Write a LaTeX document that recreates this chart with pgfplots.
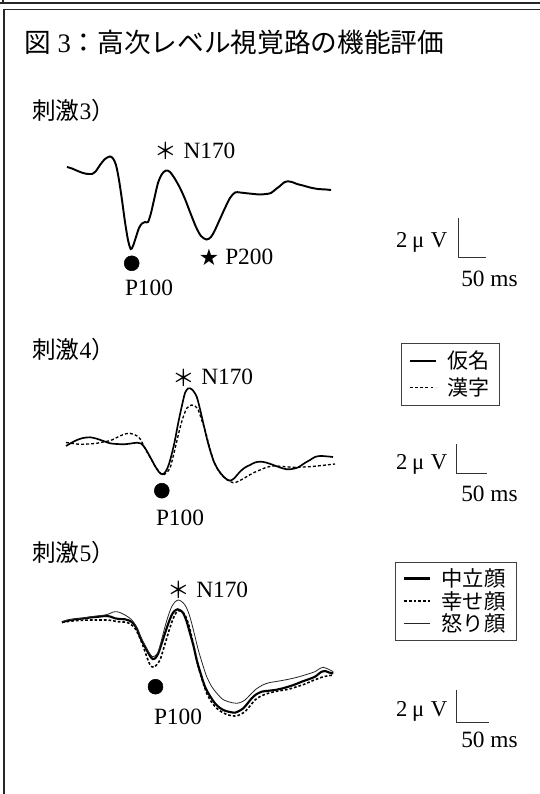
\documentclass[border=0pt]{standalone}
\usepackage{fontspec}
\usepackage{pgfplots}
\pgfplotsset{compat=1.18}
\setmainfont{Liberation Serif}
\newfontfamily\jp{Noto Sans CJK JP}
\newfontfamily\dv{DejaVu Sans}
\begin{document}
\begin{tikzpicture}
\useasboundingbox (0,0) rectangle (405pt,595.5pt);
\tikzset{
  lat/.style={inner sep=0pt, font=\fontsize{17.5pt}{20pt}\selectfont},
  sub/.style={anchor=base west, inner sep=0pt, font=\jp\fontsize{17.75pt}{20pt}\selectfont},
  ast/.style={inner sep=0pt, font=\jp\fontsize{17pt}{18pt}\selectfont},
  muv/.style={inner sep=0pt, anchor=base east, font=\fontsize{17pt}{18pt}\selectfont},
}
\newcommand{\muV}{2\hspace{3.5pt}μ\hspace{5pt}V}
\pgfplotsset{
  panel/.style={at={(0,0)}, anchor=south west, scale only axis,
    width=405pt, height=595.5pt, xmin=0, xmax=540, ymin=-794, ymax=0,
    hide axis, clip=false,
    legend image code/.code={\draw[##1] (0pt,0pt) -- (19pt,0pt);},
    legend cell align=left},
  bar/.style={black!80, line width=0.75pt, forget plot},
  dot/.style={only marks, mark=*, mark size=5.6pt, black, forget plot},
}
% ---------------- Panel 1 ----------------
\begin{axis}[panel]
\draw[black!85, line width=0.9pt] (axis cs:0,-3) -- (axis cs:540,-3);
\draw[black!85, line width=0.9pt] (axis cs:3,0) -- (axis cs:3,-3);
\draw[black!85, line width=0.9pt] (axis cs:4,-794) -- (axis cs:4,-9.7) -- (axis cs:540,-9.7);
\node[anchor=base west, inner sep=0pt, font=\fontsize{20pt}{22pt}\selectfont] at (axis cs:24,-53) {{\jp 図} 3{\jp ：高次レベル視覚路の機能評価}};
\node[sub] at (axis cs:32,-120) {刺激{\rmfamily 3}）};
\addplot[black, line width=1.45pt, smooth, tension=0.5] coordinates {
(67,-167) (72,-168.5) (77,-170.7) (83,-173) (88,-174) (92,-174) (96,-171) (100,-165) (105,-159) (110,-156.5) (113,-158.5) (116,-165) (119,-180) (122,-200) (125,-222) (128,-240) (130.7,-249) (133,-246) (136,-237) (139,-228) (142,-223.5) (145,-222) (148,-222) (151,-213) (154,-200) (158,-183) (162,-174) (166,-170.5) (170,-172) (175,-179) (180,-188) (185,-199) (190,-212) (196,-227) (201,-236) (206.5,-239.5) (211,-237) (215,-230) (220,-219) (225,-208) (230,-198) (235,-192.5) (240,-192.5) (247,-193.3) (254,-194) (260,-194.5) (266,-194) (271,-193) (276,-189) (280,-186) (284,-182.5) (288,-181.3) (292,-182) (297,-184) (303,-185.5) (310,-187.5) (318,-189) (326,-189.5) (331,-190)
};
\addplot[dot] coordinates {(131.7,-263.3)};
\addplot[bar] coordinates {(458,-218.3) (458,-257.3) (485.5,-257.3)};
\node[ast] at (axis cs:166,-151) {＊};
\node[lat, anchor=base west] at (axis cs:183.3,-158.3) {N170};
\node[lat, anchor=base] at (axis cs:149,-296) {P100};
\node[inner sep=0pt, font=\dv\fontsize{17pt}{18pt}\selectfont] at (axis cs:209,-257.5) {★};
\node[lat, anchor=base west] at (axis cs:225,-265) {P200};
\node[muv] at (axis cs:447.6,-248) {\muV};
\node[lat, anchor=base west] at (axis cs:461,-287) {50 ms};
\end{axis}
% ---------------- Panel 2 ----------------
\begin{axis}[panel,
  legend style={at={(0.7426,0.5684)}, anchor=north west, draw=black!75, line width=0.6pt,
    font=\jp\fontsize{15.75pt}{18pt}\selectfont, inner xsep=6pt, inner ysep=4pt, row sep=1pt,
    /tikz/every odd column/.append style={column sep=6pt}}]
\node[sub] at (axis cs:32,-358.5) {刺激{\rmfamily 4}）};
\addplot[black, line width=1.25pt, smooth, tension=0.5] coordinates {
(66,-446) (72,-442.5) (77,-440) (83,-438) (90,-437.3) (96,-438.5) (102,-440.5) (110,-443.3) (117,-444) (124,-444.3) (131,-443.5) (137,-442.7) (141,-443.5) (145,-448) (150,-456.7) (155,-466) (159,-472) (162.7,-474.3) (166,-471) (169,-464) (172,-453) (175,-440) (178,-424) (181.7,-406.7) (185,-393) (188,-388.5) (190,-388.3) (193,-390.5) (196.7,-396.7) (200,-409) (203.3,-423.3) (207,-439) (210,-450) (214,-462) (218.3,-470) (223,-476) (227,-479.5) (230,-480.7) (234,-478.5) (240,-471.7) (245,-467.5) (250,-465) (255,-462.5) (260,-461.7) (266,-462.5) (273.3,-465) (280,-467.5) (286.7,-469.3) (292,-469) (298.3,-467.3) (304,-463.5) (310,-460) (315,-457) (320,-456) (326,-456.3) (333,-457)
};
\addlegendentry{仮名}
\addplot[black, line width=1.0pt, dash pattern=on 2.2pt off 1.6pt, smooth, tension=0.5] coordinates {
(66,-442.5) (73,-443.5) (80,-444.3) (88,-444) (96.7,-443.3) (103,-442) (110,-440.7) (115,-438.5) (120,-436) (125,-434) (130,-433.3) (134,-434.5) (138.3,-436.7) (141,-440) (143.3,-445) (147,-452) (151.7,-460) (155,-466) (158.3,-470.7) (161,-474) (163.3,-475) (166,-473) (170,-468.3) (173,-457) (176.7,-441.7) (180,-428) (183.3,-416.7) (187,-408) (191.7,-405) (195,-406) (198.3,-410) (201,-418) (205,-430) (209,-445) (213.3,-460) (218,-470) (223.3,-476.7) (228,-480.5) (233.3,-482.7) (238,-481.5) (246.7,-476.7) (253,-473) (260,-470) (266,-467.5) (273.3,-466) (283,-466.5) (293.3,-467.3) (302,-467) (310,-466.7) (320,-465.7) (328,-464.8) (335,-464)
};
\addlegendentry{漢字}
\addplot[dot] coordinates {(161.8,-490.7)};
\addplot[bar] coordinates {(456.7,-444) (456.7,-473.3) (487,-473.3)};
\node[ast] at (axis cs:184,-378) {＊};
\node[lat, anchor=base west] at (axis cs:201,-385) {N170};
\node[lat, anchor=base] at (axis cs:180,-526) {P100};
\node[muv] at (axis cs:447.6,-469.5) {\muV};
\node[lat, anchor=base west] at (axis cs:461,-501.5) {50 ms};
\end{axis}
% ---------------- Panel 3 ----------------
\begin{axis}[panel,
  legend style={at={(0.7315,0.2928)}, anchor=north west, draw=black!75, line width=0.6pt,
    font=\jp\fontsize{16pt}{18pt}\selectfont, inner xsep=6pt, inner ysep=3pt, row sep=-2pt,
    /tikz/every odd column/.append style={column sep=6pt}}]
\node[sub] at (axis cs:32,-562) {刺激{\rmfamily 5}）};
\addplot[black, line width=1.6pt, smooth, tension=0.5] coordinates {
(62,-622.3) (68,-620.5) (75,-619.3) (83,-618.5) (91.7,-617.3) (98,-616.8) (105,-616) (110,-616.5) (115,-618.3) (120,-619) (125,-619.3) (129,-620.5) (133.3,-623.3) (137,-629) (140,-636.7) (143,-643) (146.7,-650) (150,-656) (152.7,-659) (155.5,-658) (158.3,-653.3) (161.5,-644) (165,-633.3) (168.5,-623) (171.7,-615) (174.5,-611) (177.7,-609.3) (180.5,-610.5) (183.3,-613.3) (186.5,-621) (190,-633.3) (193.5,-646) (196.7,-660) (200.5,-673) (205,-686.7) (210,-696) (215,-703.3) (220,-708) (225,-710.7) (230,-712) (235,-712.7) (239,-711) (243.3,-708.3) (247.5,-703.5) (251.7,-698.3) (256,-694.5) (261.7,-691.7) (268,-690.8) (275,-690) (282,-688.5) (288.3,-686.7) (295,-684.5) (301.7,-681.7) (308,-679.5) (315,-676.7) (318.5,-674) (321.7,-671.7) (325,-671) (329,-672.5) (333.3,-673.3)
};
\addlegendentry{中立顔}
\addplot[black, line width=1.2pt, dash pattern=on 2pt off 1.5pt, smooth, tension=0.5] coordinates {
(62,-622.3) (68,-621.5) (75,-620.7) (83,-620.3) (91.7,-620) (100,-620) (108.3,-620) (113,-620.8) (118.3,-621.7) (122,-622) (126.7,-622.3) (131,-624.5) (135,-628.3) (139,-636) (143.3,-646.7) (146.5,-656) (149.3,-663.3) (151.5,-666.5) (153.7,-667.3) (156.5,-665) (160,-660) (163.5,-649) (166.7,-638.3) (170,-627.5) (173.3,-618.3) (176,-613) (179,-610.7) (182,-612) (185,-615) (188.5,-624) (191.7,-636.7) (195,-651.5) (198.3,-666.7) (202.5,-681) (206.7,-693.3) (211.5,-702) (216.7,-708.3) (222.5,-712.5) (228.3,-715) (232.5,-715.8) (236.7,-716) (240.5,-714.3) (245,-711.7) (250,-706) (255,-700) (261,-696) (268.3,-693.3) (278,-691) (288.3,-689.3) (296,-687) (305,-684) (313,-680.5) (321.7,-677.3) (327,-676) (333.3,-675)
};
\addlegendentry{幸せ顔}
\addplot[black!85, line width=0.6pt, smooth, tension=0.5] coordinates {
(62,-621.7) (68,-620) (75,-619) (83,-618) (91.7,-616.7) (98,-615.8) (105,-615) (110,-613.5) (113,-612) (116.7,-611.7) (120,-612.5) (125,-615) (129,-617.5) (133.3,-621.7) (137,-628) (140,-635) (143,-641.5) (146.7,-648.3) (150,-654) (152.7,-656.7) (155.5,-655.5) (158.3,-651.7) (161.5,-640) (165,-626.7) (168.5,-615) (171.7,-606.7) (175,-602) (178.3,-600) (181.5,-601.5) (185,-605) (188.5,-612.5) (191.7,-623.3) (195,-636.5) (198.3,-650) (202.5,-664) (206.7,-676.7) (212,-687) (218.3,-695) (223,-699.5) (228.3,-701.7) (232.5,-702.8) (236.7,-703.3) (241,-702.2) (245,-700) (250,-695) (255,-690) (260,-686.5) (265,-684) (270,-682.5) (275,-681.7) (282,-680.5) (288.3,-679.3) (295,-677.8) (301.7,-676) (308,-674) (315,-671.7) (319,-669) (323.3,-667.3) (327,-668.5) (333.3,-671.7)
};
\addlegendentry{怒り顔}
\addplot[dot] coordinates {(155.5,-686.7)};
\addplot[bar] coordinates {(456.7,-690) (456.7,-722.7) (489,-722.7)};
\node[ast] at (axis cs:179,-590) {＊};
\node[lat, anchor=base west] at (axis cs:196,-598) {N170};
\node[lat, anchor=base] at (axis cs:178,-724.5) {P100};
\node[muv] at (axis cs:447.6,-716.5) {\muV};
\node[lat, anchor=base west] at (axis cs:461,-748) {50 ms};
\end{axis}
\end{tikzpicture}
\end{document}
